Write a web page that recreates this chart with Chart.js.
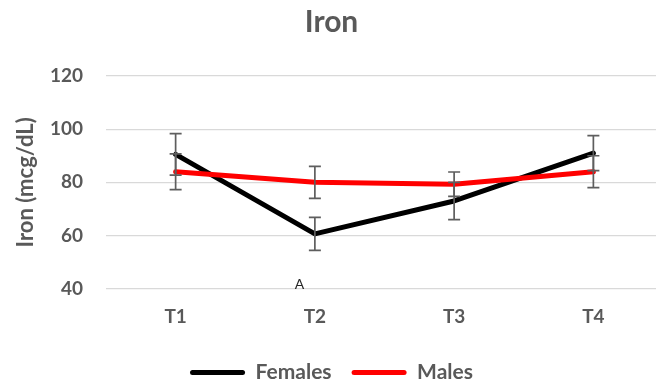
<!DOCTYPE html>
<html>
<head>
<meta charset="utf-8">
<script src="https://cdn.jsdelivr.net/npm/chart.js@4"></script>
<style>
  html, body { margin: 0; padding: 0; background: #fff; overflow: hidden; width: 656px; height: 384px; }
  canvas { display: block; }
</style>
</head>
<body>
<canvas id="c" width="664" height="384"></canvas>
<script>
const categories = ['T1', 'T2', 'T3', 'T4'];
const femalesValues = [90.5, 60.6, 73, 91];
const femalesErrors = [7.8, 6.2, 7, 6.6];
const malesValues = [84, 80, 79.3, 84];
const malesErrors = [6.7, 6, 4.6, 6];
const yTicks = [40, 60, 80, 100, 120];
const annotationLabels = ['A'];
const annotationCategories = ['T2'];
const annotationValues = [40.5];

const errorBarPlugin = {
  id: 'errorBars',
  afterDatasetsDraw(chart) {
    const ctx = chart.ctx;
    const xs = chart.scales.x, ys = chart.scales.y;
    ctx.save();
    ctx.strokeStyle = '#5e5e5e';
    ctx.lineWidth = 1.7;
    chart.data.datasets.forEach(ds => {
      if (!ds.errors) return;
      ds.data.forEach((v, i) => {
        const e = ds.errors[i];
        const x = xs.getPixelForValue(i);
        const yt = ys.getPixelForValue(v + e);
        const yb = ys.getPixelForValue(v - e);
        ctx.beginPath();
        ctx.moveTo(x, yt); ctx.lineTo(x, yb);
        ctx.moveTo(x - 6, yt); ctx.lineTo(x + 6, yt);
        ctx.moveTo(x - 6, yb); ctx.lineTo(x + 6, yb);
        ctx.stroke();
      });
    });
    ctx.restore();
  }
};

const annotationPlugin = {
  id: 'letters',
  afterDatasetsDraw(chart) {
    const ctx = chart.ctx;
    const xs = chart.scales.x, ys = chart.scales.y;
    ctx.save();
    ctx.fillStyle = '#262626';
    ctx.font = '14px Lato';
    ctx.textAlign = 'center';
    ctx.textBaseline = 'middle';
    annotationLabels.forEach((t, i) => {
      const x = xs.getPixelForValue(categories.indexOf(annotationCategories[i])) - 15.5;
      const y = ys.getPixelForValue(annotationValues[i]) - 3;
      ctx.fillText(t, x, y);
    });
    ctx.restore();
  }
};

new Chart(document.getElementById('c'), {
  type: 'line',
  data: {
    labels: categories,
    datasets: [
      { label: 'Females', data: femalesValues, errors: femalesErrors, borderColor: '#000000', backgroundColor: '#000000',
        borderWidth: 5, pointRadius: 0, pointHoverRadius: 0, tension: 0, borderCapStyle: 'round', borderJoinStyle: 'round', order: 1 },
      { label: 'Males', data: malesValues, errors: malesErrors, borderColor: '#ff0000', backgroundColor: '#ff0000',
        borderWidth: 5, pointRadius: 0, pointHoverRadius: 0, tension: 0, borderCapStyle: 'round', borderJoinStyle: 'round', order: 0 }
    ]
  },
  options: {
    responsive: false,
    animation: false,
    events: [],
    layout: { padding: { left: 0, right: 1, top: 0, bottom: -9 } },
    plugins: {
      title: {
        display: true, text: 'Iron', color: '#595959',
        font: { family: 'Lato', size: 30, weight: 'bold' },
        padding: { top: 4, bottom: 36 }
      },
      legend: {
        position: 'bottom',
        labels: {
          color: '#595959',
          font: { family: 'Lato', size: 21, weight: 'bold' },
          boxWidth: 55, boxHeight: 5, useBorderRadius: true, borderRadius: 2.5,
          padding: 20,
          sort: (a, b) => a.datasetIndex - b.datasetIndex,
          generateLabels: (chart) => chart.data.datasets.map((ds, i) => ({
            text: ds.label, fillStyle: ds.borderColor, strokeStyle: ds.borderColor, lineWidth: 0,
            datasetIndex: i, borderRadius: 2.5, fontColor: '#595959'
          }))
        }
      },
      tooltip: { enabled: false }
    },
    scales: {
      x: {
        offset: true,
        grid: { display: false, drawTicks: false, offset: true },
        border: { display: false },
        ticks: { color: '#595959', font: { family: 'Lato', size: 19, weight: 'bold' }, padding: 17 },
        afterFit: (s) => { s.height = 53.3; }
      },
      y: {
        min: 40, max: 120,
        afterBuildTicks: (s) => { s.ticks = yTicks.map(v => ({ value: v })); },
        grid: { color: '#d9d9d9', lineWidth: 1.2, drawTicks: false },
        border: { display: false },
        ticks: { color: '#595959', font: { family: 'Lato', size: 19, weight: 'bold' }, padding: 23 },
        title: { display: true, text: 'Iron (mcg/dL)', color: '#595959',
          font: { family: 'Lato', size: 22, weight: 'bold' }, padding: { top: 13, bottom: 0 } },
        afterFit: (s) => { s.width = 106; }
      }
    }
  },
  plugins: [errorBarPlugin, annotationPlugin]
});
</script>
</body>
</html>
